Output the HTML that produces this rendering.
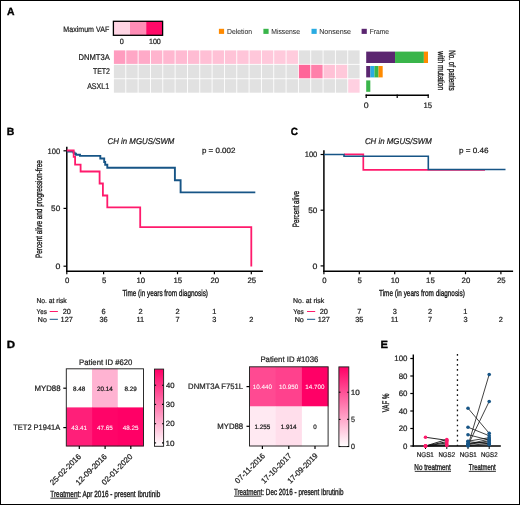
<!DOCTYPE html>
<html><head><meta charset="utf-8"><style>
html,body{margin:0;padding:0;background:#fff;}
#fig{position:relative;width:518px;height:503px;border:1px solid #000;overflow:hidden;background:#fff;}
svg{position:absolute;left:-1px;top:-1px;filter:blur(0.3px);}
text{font-family:"Liberation Sans", sans-serif;fill:#1c1c1c;stroke:#1c1c1c;stroke-width:0.22px;text-rendering:geometricPrecision;}
.c{stroke-width:0.36px;}
.w{fill:#fff;stroke:#fff;stroke-width:0.05px;}
.t{stroke-width:0.04px;fill:#2a2a2a;}
.k{fill:#000;stroke:#000;stroke-width:0.35px;}
</style></head><body>
<div id="fig"><svg width="520" height="505" viewBox="0 0 520 505">
<text x="7.00" y="15.20" font-size="10.4" textLength="7.52" lengthAdjust="spacingAndGlyphs" font-weight="bold" class="k">A</text>
<text x="63.37" y="31.60" font-size="8.0" textLength="45.86" lengthAdjust="spacingAndGlyphs">Maximum VAF</text>
<rect x="113.40" y="21.30" width="16.60" height="14.00" fill="#ffd5e4"/>
<rect x="130.00" y="21.30" width="16.20" height="14.00" fill="#ff8db6"/>
<rect x="146.20" y="21.30" width="16.40" height="14.00" fill="#ff0a68"/>
<rect x="113.40" y="21.30" width="49.20" height="14.00" fill="none" stroke="#000" stroke-width="1.3"/>
<text x="119.77" y="44.00" font-size="7.6" textLength="4.06" lengthAdjust="spacingAndGlyphs">0</text>
<text x="148.91" y="44.00" font-size="7.6" textLength="11.92" lengthAdjust="spacingAndGlyphs">100</text>
<rect x="218.90" y="28.80" width="5.20" height="5.10" fill="#ff8a00"/>
<text x="226.99" y="34.00" font-size="7.3" textLength="24.99" lengthAdjust="spacingAndGlyphs" class="t">Deletion</text>
<rect x="263.40" y="28.80" width="5.20" height="5.10" fill="#39b54a"/>
<text x="271.19" y="34.00" font-size="7.3" textLength="28.86" lengthAdjust="spacingAndGlyphs" class="t">Missense</text>
<rect x="311.50" y="28.80" width="5.20" height="5.10" fill="#29abe2"/>
<text x="319.17" y="34.00" font-size="7.3" textLength="31.89" lengthAdjust="spacingAndGlyphs" class="t">Nonsense</text>
<rect x="361.60" y="28.80" width="5.20" height="5.10" fill="#5b2670"/>
<text x="369.70" y="34.00" font-size="7.3" textLength="19.34" lengthAdjust="spacingAndGlyphs" class="t">Frame</text>
<text x="78.42" y="59.90" font-size="8.3" textLength="31.34" lengthAdjust="spacingAndGlyphs">DNMT3A</text>
<text x="92.90" y="74.20" font-size="8.3" textLength="17.00" lengthAdjust="spacingAndGlyphs">TET2</text>
<text x="87.14" y="88.60" font-size="8.3" textLength="21.95" lengthAdjust="spacingAndGlyphs">ASXL1</text>
<rect x="113.90" y="50.40" width="11.43" height="13.50" fill="#ff9cbf"/>
<rect x="126.23" y="50.40" width="11.43" height="13.50" fill="#ffa7c6"/>
<rect x="138.56" y="50.40" width="11.43" height="13.50" fill="#ffaac8"/>
<rect x="150.89" y="50.40" width="11.43" height="13.50" fill="#ffb4ce"/>
<rect x="163.22" y="50.40" width="11.43" height="13.50" fill="#ffb7d0"/>
<rect x="175.55" y="50.40" width="11.43" height="13.50" fill="#ffbad2"/>
<rect x="187.88" y="50.40" width="11.43" height="13.50" fill="#ffbcd3"/>
<rect x="200.21" y="50.40" width="11.43" height="13.50" fill="#ffbfd5"/>
<rect x="212.54" y="50.40" width="11.43" height="13.50" fill="#ffc1d6"/>
<rect x="224.87" y="50.40" width="11.43" height="13.50" fill="#ffc3d7"/>
<rect x="237.20" y="50.40" width="11.43" height="13.50" fill="#ffc5d9"/>
<rect x="249.53" y="50.40" width="11.43" height="13.50" fill="#ffc7da"/>
<rect x="261.86" y="50.40" width="11.43" height="13.50" fill="#ffc8db"/>
<rect x="274.19" y="50.40" width="11.43" height="13.50" fill="#ffcadc"/>
<rect x="286.52" y="50.40" width="11.43" height="13.50" fill="#ffccdd"/>
<rect x="298.85" y="50.40" width="11.43" height="13.50" fill="#e1e1e1"/>
<rect x="311.18" y="50.40" width="11.43" height="13.50" fill="#e1e1e1"/>
<rect x="323.51" y="50.40" width="11.43" height="13.50" fill="#e1e1e1"/>
<rect x="335.84" y="50.40" width="11.43" height="13.50" fill="#e1e1e1"/>
<rect x="348.17" y="50.40" width="11.43" height="13.50" fill="#e1e1e1"/>
<rect x="113.90" y="64.80" width="11.43" height="13.50" fill="#e1e1e1"/>
<rect x="126.23" y="64.80" width="11.43" height="13.50" fill="#e1e1e1"/>
<rect x="138.56" y="64.80" width="11.43" height="13.50" fill="#e1e1e1"/>
<rect x="150.89" y="64.80" width="11.43" height="13.50" fill="#e1e1e1"/>
<rect x="163.22" y="64.80" width="11.43" height="13.50" fill="#e1e1e1"/>
<rect x="175.55" y="64.80" width="11.43" height="13.50" fill="#e1e1e1"/>
<rect x="187.88" y="64.80" width="11.43" height="13.50" fill="#e1e1e1"/>
<rect x="200.21" y="64.80" width="11.43" height="13.50" fill="#e1e1e1"/>
<rect x="212.54" y="64.80" width="11.43" height="13.50" fill="#e1e1e1"/>
<rect x="224.87" y="64.80" width="11.43" height="13.50" fill="#e1e1e1"/>
<rect x="237.20" y="64.80" width="11.43" height="13.50" fill="#e1e1e1"/>
<rect x="249.53" y="64.80" width="11.43" height="13.50" fill="#e1e1e1"/>
<rect x="261.86" y="64.80" width="11.43" height="13.50" fill="#e1e1e1"/>
<rect x="274.19" y="64.80" width="11.43" height="13.50" fill="#e1e1e1"/>
<rect x="286.52" y="64.80" width="11.43" height="13.50" fill="#e1e1e1"/>
<rect x="298.85" y="64.80" width="11.43" height="13.50" fill="#ff6699"/>
<rect x="311.18" y="64.80" width="11.43" height="13.50" fill="#ff80aa"/>
<rect x="323.51" y="64.80" width="11.43" height="13.50" fill="#ffc1d6"/>
<rect x="335.84" y="64.80" width="11.43" height="13.50" fill="#ffc8da"/>
<rect x="348.17" y="64.80" width="11.43" height="13.50" fill="#e1e1e1"/>
<rect x="113.90" y="79.20" width="11.43" height="13.50" fill="#e1e1e1"/>
<rect x="126.23" y="79.20" width="11.43" height="13.50" fill="#e1e1e1"/>
<rect x="138.56" y="79.20" width="11.43" height="13.50" fill="#e1e1e1"/>
<rect x="150.89" y="79.20" width="11.43" height="13.50" fill="#e1e1e1"/>
<rect x="163.22" y="79.20" width="11.43" height="13.50" fill="#e1e1e1"/>
<rect x="175.55" y="79.20" width="11.43" height="13.50" fill="#e1e1e1"/>
<rect x="187.88" y="79.20" width="11.43" height="13.50" fill="#e1e1e1"/>
<rect x="200.21" y="79.20" width="11.43" height="13.50" fill="#e1e1e1"/>
<rect x="212.54" y="79.20" width="11.43" height="13.50" fill="#e1e1e1"/>
<rect x="224.87" y="79.20" width="11.43" height="13.50" fill="#e1e1e1"/>
<rect x="237.20" y="79.20" width="11.43" height="13.50" fill="#e1e1e1"/>
<rect x="249.53" y="79.20" width="11.43" height="13.50" fill="#e1e1e1"/>
<rect x="261.86" y="79.20" width="11.43" height="13.50" fill="#e1e1e1"/>
<rect x="274.19" y="79.20" width="11.43" height="13.50" fill="#e1e1e1"/>
<rect x="286.52" y="79.20" width="11.43" height="13.50" fill="#e1e1e1"/>
<rect x="298.85" y="79.20" width="11.43" height="13.50" fill="#e1e1e1"/>
<rect x="311.18" y="79.20" width="11.43" height="13.50" fill="#e1e1e1"/>
<rect x="323.51" y="79.20" width="11.43" height="13.50" fill="#e1e1e1"/>
<rect x="335.84" y="79.20" width="11.43" height="13.50" fill="#e1e1e1"/>
<rect x="348.17" y="79.20" width="11.43" height="13.50" fill="#ffd0e1"/>
<rect x="366.20" y="51.60" width="28.84" height="11.40" fill="#5b2670"/>
<rect x="395.04" y="51.60" width="28.84" height="11.40" fill="#39b54a"/>
<rect x="423.88" y="51.60" width="4.12" height="11.40" fill="#ff8a00"/>
<rect x="366.20" y="66.00" width="4.12" height="11.40" fill="#5b2670"/>
<rect x="370.32" y="66.00" width="4.12" height="11.40" fill="#29abe2"/>
<rect x="374.44" y="66.00" width="4.12" height="11.40" fill="#39b54a"/>
<rect x="378.56" y="66.00" width="4.12" height="11.40" fill="#ff8a00"/>
<rect x="366.20" y="80.40" width="4.12" height="11.40" fill="#39b54a"/>
<line x1="365.60" y1="95.20" x2="428.80" y2="95.20" stroke="#000" stroke-width="1.4"/>
<line x1="366.20" y1="94.50" x2="366.20" y2="98.00" stroke="#000" stroke-width="1.2"/>
<line x1="397.20" y1="94.50" x2="397.20" y2="98.00" stroke="#000" stroke-width="1.2"/>
<line x1="428.20" y1="94.50" x2="428.20" y2="98.00" stroke="#000" stroke-width="1.2"/>
<text x="363.71" y="107.60" font-size="8.0" textLength="4.88" lengthAdjust="spacingAndGlyphs">0</text>
<text x="423.46" y="107.60" font-size="8.0" textLength="8.61" lengthAdjust="spacingAndGlyphs">15</text>
<text transform="translate(449.00 70.55) rotate(90)" x="-20.42" y="0" font-size="9.2" textLength="40.54" lengthAdjust="spacingAndGlyphs" class="c">No. of patients</text>
<text transform="translate(438.00 70.55) rotate(90)" x="-19.19" y="0" font-size="9.2" textLength="38.81" lengthAdjust="spacingAndGlyphs" class="c">with mutation</text>
<line x1="66.80" y1="146.80" x2="66.80" y2="271.95" stroke="#000" stroke-width="1.5"/>
<line x1="66.05" y1="271.20" x2="262.90" y2="271.20" stroke="#000" stroke-width="1.5"/>
<line x1="63.50" y1="150.80" x2="66.80" y2="150.80" stroke="#000" stroke-width="1.2"/>
<text x="47.57" y="153.55" font-size="7.9" textLength="12.67" lengthAdjust="spacingAndGlyphs">100</text>
<line x1="63.50" y1="208.40" x2="66.80" y2="208.40" stroke="#000" stroke-width="1.2"/>
<text x="51.12" y="211.15" font-size="7.9" textLength="9.14" lengthAdjust="spacingAndGlyphs">50</text>
<line x1="63.50" y1="266.20" x2="66.80" y2="266.20" stroke="#000" stroke-width="1.2"/>
<text x="55.41" y="268.95" font-size="7.9" textLength="4.88" lengthAdjust="spacingAndGlyphs">0</text>
<line x1="66.80" y1="271.20" x2="66.80" y2="274.20" stroke="#000" stroke-width="1.2"/>
<text x="65.08" y="282.90" font-size="7.8" textLength="4.34" lengthAdjust="spacingAndGlyphs">0</text>
<line x1="103.60" y1="271.20" x2="103.60" y2="274.20" stroke="#000" stroke-width="1.2"/>
<text x="101.89" y="282.90" font-size="7.8" textLength="4.34" lengthAdjust="spacingAndGlyphs">5</text>
<line x1="140.50" y1="271.20" x2="140.50" y2="274.20" stroke="#000" stroke-width="1.2"/>
<text x="136.46" y="282.90" font-size="7.8" textLength="8.68" lengthAdjust="spacingAndGlyphs">10</text>
<line x1="177.50" y1="271.20" x2="177.50" y2="274.20" stroke="#000" stroke-width="1.2"/>
<text x="173.48" y="282.90" font-size="7.8" textLength="8.68" lengthAdjust="spacingAndGlyphs">15</text>
<line x1="214.40" y1="271.20" x2="214.40" y2="274.20" stroke="#000" stroke-width="1.2"/>
<text x="210.47" y="282.90" font-size="7.8" textLength="8.68" lengthAdjust="spacingAndGlyphs">20</text>
<line x1="251.30" y1="271.20" x2="251.30" y2="274.20" stroke="#000" stroke-width="1.2"/>
<text x="247.38" y="282.90" font-size="7.8" textLength="8.68" lengthAdjust="spacingAndGlyphs">25</text>
<text x="107.52" y="144.30" font-size="8.4" textLength="66.83" lengthAdjust="spacingAndGlyphs" font-style="italic">CH in MGUS/SWM</text>
<text x="201.94" y="153.20" font-size="7.6" textLength="33.51" lengthAdjust="spacingAndGlyphs">p = 0.002</text>
<text x="122.41" y="295.50" font-size="8.7" textLength="85.54" lengthAdjust="spacingAndGlyphs" class="c">Time (in years from diagnosis)</text>
<text transform="translate(41.80 209.00) rotate(-90)" x="-49.08" y="0" font-size="9.2" textLength="97.91" lengthAdjust="spacingAndGlyphs" class="c">Percent alive and progression-free</text>
<line x1="323.90" y1="150.20" x2="323.90" y2="271.95" stroke="#000" stroke-width="1.5"/>
<line x1="323.15" y1="271.20" x2="513.10" y2="271.20" stroke="#000" stroke-width="1.5"/>
<line x1="320.60" y1="154.50" x2="323.90" y2="154.50" stroke="#000" stroke-width="1.2"/>
<text x="304.67" y="157.25" font-size="7.9" textLength="12.67" lengthAdjust="spacingAndGlyphs">100</text>
<line x1="320.60" y1="210.20" x2="323.90" y2="210.20" stroke="#000" stroke-width="1.2"/>
<text x="308.22" y="212.95" font-size="7.9" textLength="9.14" lengthAdjust="spacingAndGlyphs">50</text>
<line x1="320.60" y1="265.90" x2="323.90" y2="265.90" stroke="#000" stroke-width="1.2"/>
<text x="312.51" y="268.65" font-size="7.9" textLength="4.88" lengthAdjust="spacingAndGlyphs">0</text>
<line x1="323.90" y1="271.20" x2="323.90" y2="274.20" stroke="#000" stroke-width="1.2"/>
<text x="322.18" y="282.90" font-size="7.8" textLength="4.34" lengthAdjust="spacingAndGlyphs">0</text>
<line x1="359.30" y1="271.20" x2="359.30" y2="274.20" stroke="#000" stroke-width="1.2"/>
<text x="357.59" y="282.90" font-size="7.8" textLength="4.34" lengthAdjust="spacingAndGlyphs">5</text>
<line x1="394.70" y1="271.20" x2="394.70" y2="274.20" stroke="#000" stroke-width="1.2"/>
<text x="390.66" y="282.90" font-size="7.8" textLength="8.68" lengthAdjust="spacingAndGlyphs">10</text>
<line x1="430.10" y1="271.20" x2="430.10" y2="274.20" stroke="#000" stroke-width="1.2"/>
<text x="426.08" y="282.90" font-size="7.8" textLength="8.68" lengthAdjust="spacingAndGlyphs">15</text>
<line x1="465.50" y1="271.20" x2="465.50" y2="274.20" stroke="#000" stroke-width="1.2"/>
<text x="461.57" y="282.90" font-size="7.8" textLength="8.68" lengthAdjust="spacingAndGlyphs">20</text>
<line x1="500.90" y1="271.20" x2="500.90" y2="274.20" stroke="#000" stroke-width="1.2"/>
<text x="496.98" y="282.90" font-size="7.8" textLength="8.68" lengthAdjust="spacingAndGlyphs">25</text>
<text x="364.92" y="144.30" font-size="8.4" textLength="66.83" lengthAdjust="spacingAndGlyphs" font-style="italic">CH in MGUS/SWM</text>
<text x="458.93" y="153.20" font-size="7.6" textLength="29.67" lengthAdjust="spacingAndGlyphs">p = 0.46</text>
<text x="379.01" y="295.50" font-size="8.7" textLength="85.84" lengthAdjust="spacingAndGlyphs" class="c">Time (in years from diagnosis)</text>
<text transform="translate(299.20 209.00) rotate(-90)" x="-18.26" y="0" font-size="9.2" textLength="36.29" lengthAdjust="spacingAndGlyphs" class="c">Percent alive</text>
<path d="M66.80 151.60 L73.40 151.60 L73.40 152.60 L74.60 152.60 L74.60 153.80 L76.00 153.80 L76.00 154.80 L80.00 154.80 L80.00 155.90 L100.30 155.90 L100.30 158.50 L104.20 158.50 L104.20 162.00 L105.20 162.00 L105.20 164.80 L107.30 164.80 L107.30 167.80 L174.90 167.80 L174.90 180.20 L180.60 180.20 L180.60 192.40 L255.30 192.40" fill="none" stroke="#175586" stroke-width="1.9"/>
<path d="M66.80 150.50 L73.70 150.50 L73.70 156.80 L75.10 156.80 L75.10 164.70 L80.60 164.70 L80.60 171.50 L99.60 171.50 L99.60 183.50 L102.90 183.50 L102.90 195.50 L107.30 195.50 L107.30 207.30 L140.20 207.30 L140.20 227.20 L251.30 227.20 L251.30 266.40" fill="none" stroke="#ff1a6c" stroke-width="1.8"/>
<path d="M344.00 154.40 L363.30 154.40 L363.30 169.90 L485.00 169.90" fill="none" stroke="#ff1a6c" stroke-width="1.7"/>
<path d="M323.90 154.50 L344.00 154.50 L344.00 156.20 L428.30 156.20 L428.30 169.50 L505.50 169.50" fill="none" stroke="#175586" stroke-width="1.6"/>
<text x="36.40" y="303.20" font-size="7.0" textLength="30.34" lengthAdjust="spacingAndGlyphs">No. at risk</text>
<text x="36.61" y="313.80" font-size="7.0" textLength="10.16" lengthAdjust="spacingAndGlyphs">Yes</text>
<text x="37.87" y="321.50" font-size="7.0" textLength="8.96" lengthAdjust="spacingAndGlyphs">No</text>
<line x1="49.70" y1="311.50" x2="57.90" y2="311.50" stroke="#ff1a6c" stroke-width="1.0"/>
<line x1="49.70" y1="319.30" x2="57.90" y2="319.30" stroke="#175586" stroke-width="1.0"/>
<text x="62.64" y="313.80" font-size="7.4" textLength="8.23" lengthAdjust="spacingAndGlyphs">20</text>
<text x="101.52" y="313.80" font-size="7.4" textLength="4.12" lengthAdjust="spacingAndGlyphs">6</text>
<text x="138.44" y="313.80" font-size="7.4" textLength="4.12" lengthAdjust="spacingAndGlyphs">2</text>
<text x="175.44" y="313.80" font-size="7.4" textLength="4.12" lengthAdjust="spacingAndGlyphs">2</text>
<text x="212.24" y="313.80" font-size="7.4" textLength="4.12" lengthAdjust="spacingAndGlyphs">1</text>
<text x="60.53" y="321.50" font-size="7.4" textLength="12.35" lengthAdjust="spacingAndGlyphs">127</text>
<text x="99.50" y="321.50" font-size="7.4" textLength="8.23" lengthAdjust="spacingAndGlyphs">36</text>
<text x="136.56" y="321.50" font-size="7.4" textLength="7.68" lengthAdjust="spacingAndGlyphs">11</text>
<text x="175.44" y="321.50" font-size="7.4" textLength="4.12" lengthAdjust="spacingAndGlyphs">7</text>
<text x="212.36" y="321.50" font-size="7.4" textLength="4.12" lengthAdjust="spacingAndGlyphs">3</text>
<text x="249.24" y="321.50" font-size="7.4" textLength="4.12" lengthAdjust="spacingAndGlyphs">2</text>
<text x="293.08" y="303.20" font-size="7.0" textLength="31.15" lengthAdjust="spacingAndGlyphs">No. at risk</text>
<text x="293.31" y="313.80" font-size="7.0" textLength="10.47" lengthAdjust="spacingAndGlyphs">Yes</text>
<text x="294.66" y="321.50" font-size="7.0" textLength="9.19" lengthAdjust="spacingAndGlyphs">No</text>
<line x1="307.00" y1="311.50" x2="315.20" y2="311.50" stroke="#ff1a6c" stroke-width="1.0"/>
<line x1="307.00" y1="319.30" x2="315.20" y2="319.30" stroke="#175586" stroke-width="1.0"/>
<text x="319.74" y="313.80" font-size="7.4" textLength="8.23" lengthAdjust="spacingAndGlyphs">20</text>
<text x="357.24" y="313.80" font-size="7.4" textLength="4.12" lengthAdjust="spacingAndGlyphs">7</text>
<text x="392.66" y="313.80" font-size="7.4" textLength="4.12" lengthAdjust="spacingAndGlyphs">3</text>
<text x="428.04" y="313.80" font-size="7.4" textLength="4.12" lengthAdjust="spacingAndGlyphs">2</text>
<text x="463.34" y="313.80" font-size="7.4" textLength="4.12" lengthAdjust="spacingAndGlyphs">1</text>
<text x="317.63" y="321.50" font-size="7.4" textLength="12.35" lengthAdjust="spacingAndGlyphs">127</text>
<text x="355.20" y="321.50" font-size="7.4" textLength="8.23" lengthAdjust="spacingAndGlyphs">35</text>
<text x="390.76" y="321.50" font-size="7.4" textLength="7.68" lengthAdjust="spacingAndGlyphs">11</text>
<text x="428.04" y="321.50" font-size="7.4" textLength="4.12" lengthAdjust="spacingAndGlyphs">7</text>
<text x="463.46" y="321.50" font-size="7.4" textLength="4.12" lengthAdjust="spacingAndGlyphs">3</text>
<text x="498.84" y="321.50" font-size="7.4" textLength="4.12" lengthAdjust="spacingAndGlyphs">2</text>
<text x="6.86" y="134.50" font-size="10.4" textLength="7.56" lengthAdjust="spacingAndGlyphs" font-weight="bold" class="k">B</text>
<text x="290.84" y="134.50" font-size="10.4" textLength="7.18" lengthAdjust="spacingAndGlyphs" font-weight="bold" class="k">C</text>
<text x="6.69" y="348.20" font-size="10.4" textLength="8.34" lengthAdjust="spacingAndGlyphs" font-weight="bold" class="k">D</text>
<rect x="66.30" y="368.80" width="26.03" height="38.90" fill="#fffefe"/>
<rect x="92.03" y="368.80" width="26.03" height="38.90" fill="#ffb3d2"/>
<rect x="117.77" y="368.80" width="26.03" height="38.90" fill="#ffffff"/>
<rect x="66.30" y="407.40" width="26.03" height="38.90" fill="#ff1f79"/>
<rect x="92.03" y="407.40" width="26.03" height="38.90" fill="#ff0468"/>
<rect x="117.77" y="407.40" width="26.03" height="38.90" fill="#ff0066"/>
<text x="73.04" y="390.50" font-size="6.3" textLength="12.26" lengthAdjust="spacingAndGlyphs">8.48</text>
<text x="96.95" y="390.50" font-size="6.3" textLength="15.77" lengthAdjust="spacingAndGlyphs">20.14</text>
<text x="124.52" y="390.50" font-size="6.3" textLength="12.26" lengthAdjust="spacingAndGlyphs">8.29</text>
<text x="71.37" y="429.90" font-size="6.3" textLength="15.77" lengthAdjust="spacingAndGlyphs" class="w">43.41</text>
<text x="97.08" y="429.90" font-size="6.3" textLength="15.77" lengthAdjust="spacingAndGlyphs" class="w">47.65</text>
<text x="122.81" y="429.90" font-size="6.3" textLength="15.77" lengthAdjust="spacingAndGlyphs" class="w">48.25</text>
<rect x="66.30" y="368.80" width="77.20" height="77.20" fill="none" stroke="#222" stroke-width="0.95"/>
<text x="79.02" y="364.50" font-size="8.0" textLength="53.33" lengthAdjust="spacingAndGlyphs">Patient ID #620</text>
<line x1="63.30" y1="388.20" x2="66.30" y2="388.20" stroke="#000" stroke-width="1.2"/>
<text x="34.41" y="391.00" font-size="8.0" textLength="26.08" lengthAdjust="spacingAndGlyphs">MYD88</text>
<line x1="63.30" y1="427.60" x2="66.30" y2="427.60" stroke="#000" stroke-width="1.2"/>
<text x="13.29" y="430.40" font-size="8.0" textLength="46.88" lengthAdjust="spacingAndGlyphs">TET2 P1941A</text>
<line x1="79.30" y1="446.00" x2="79.30" y2="449.00" stroke="#000" stroke-width="1.2"/>
<text transform="translate(81.30 457.30) rotate(-45)" x="-39.89" y="0" font-size="7.8" textLength="40.23" lengthAdjust="spacingAndGlyphs">25-02-2016</text>
<line x1="105.10" y1="446.00" x2="105.10" y2="449.00" stroke="#000" stroke-width="1.2"/>
<text transform="translate(107.10 457.30) rotate(-45)" x="-40.10" y="0" font-size="7.8" textLength="40.44" lengthAdjust="spacingAndGlyphs">12-09-2016</text>
<line x1="130.80" y1="446.00" x2="130.80" y2="449.00" stroke="#000" stroke-width="1.2"/>
<text transform="translate(132.80 457.30) rotate(-45)" x="-39.81" y="0" font-size="7.8" textLength="40.11" lengthAdjust="spacingAndGlyphs">02-01-2020</text>
<defs><linearGradient id="g66" x1="0" y1="1" x2="0" y2="0"><stop offset="0" stop-color="#fff"/><stop offset="1" stop-color="#ff0066"/></linearGradient></defs>
<rect x="154.50" y="369.10" width="9.10" height="77.20" fill="url(#g66)" stroke="#222" stroke-width="0.95"/>
<line x1="154.50" y1="385.20" x2="156.10" y2="385.20" stroke="#000" stroke-width="1.1"/>
<line x1="162.00" y1="385.20" x2="163.60" y2="385.20" stroke="#000" stroke-width="1.1"/>
<text x="165.98" y="387.90" font-size="7.6" textLength="8.56" lengthAdjust="spacingAndGlyphs">40</text>
<line x1="154.50" y1="404.40" x2="156.10" y2="404.40" stroke="#000" stroke-width="1.1"/>
<line x1="162.00" y1="404.40" x2="163.60" y2="404.40" stroke="#000" stroke-width="1.1"/>
<text x="165.85" y="407.10" font-size="7.6" textLength="8.70" lengthAdjust="spacingAndGlyphs">30</text>
<line x1="154.50" y1="423.70" x2="156.10" y2="423.70" stroke="#000" stroke-width="1.1"/>
<line x1="162.00" y1="423.70" x2="163.60" y2="423.70" stroke="#000" stroke-width="1.1"/>
<text x="165.75" y="426.40" font-size="7.6" textLength="8.80" lengthAdjust="spacingAndGlyphs">20</text>
<line x1="154.50" y1="442.90" x2="156.10" y2="442.90" stroke="#000" stroke-width="1.1"/>
<line x1="162.00" y1="442.90" x2="163.60" y2="442.90" stroke="#000" stroke-width="1.1"/>
<text x="165.53" y="445.60" font-size="7.6" textLength="9.03" lengthAdjust="spacingAndGlyphs">10</text>
<text x="50.31" y="496.70" font-size="8.9" textLength="109.90" lengthAdjust="spacingAndGlyphs" class="c">Treatment: Apr 2016 - present Ibrutinib</text>
<line x1="50.40" y1="498.20" x2="77.80" y2="498.20" stroke="#222" stroke-width="0.9"/>
<rect x="249.50" y="366.80" width="26.50" height="39.90" fill="#ff4a92"/>
<rect x="275.70" y="366.80" width="26.50" height="39.90" fill="#ff418d"/>
<rect x="301.90" y="366.80" width="26.50" height="39.90" fill="#ff0066"/>
<rect x="249.50" y="406.40" width="26.50" height="39.90" fill="#ffe9f2"/>
<rect x="275.70" y="406.40" width="26.50" height="39.90" fill="#ffdeeb"/>
<rect x="301.90" y="406.40" width="26.50" height="39.90" fill="#ffffff"/>
<text x="252.85" y="388.90" font-size="6.3" textLength="19.27" lengthAdjust="spacingAndGlyphs" class="w">10.440</text>
<text x="279.05" y="388.90" font-size="6.3" textLength="19.27" lengthAdjust="spacingAndGlyphs" class="w">10.950</text>
<text x="305.25" y="388.90" font-size="6.3" textLength="19.27" lengthAdjust="spacingAndGlyphs" class="w">14.700</text>
<text x="254.61" y="428.60" font-size="6.3" textLength="15.77" lengthAdjust="spacingAndGlyphs">1.255</text>
<text x="280.77" y="428.60" font-size="6.3" textLength="15.77" lengthAdjust="spacingAndGlyphs">1.914</text>
<text x="313.25" y="428.60" font-size="6.3" textLength="3.50" lengthAdjust="spacingAndGlyphs">0</text>
<rect x="249.50" y="366.80" width="78.60" height="79.20" fill="none" stroke="#222" stroke-width="0.95"/>
<text x="260.41" y="362.40" font-size="8.0" textLength="57.87" lengthAdjust="spacingAndGlyphs">Patient ID #1036</text>
<line x1="246.50" y1="386.60" x2="249.50" y2="386.60" stroke="#000" stroke-width="1.2"/>
<text x="188.12" y="389.40" font-size="8.0" textLength="54.99" lengthAdjust="spacingAndGlyphs">DNMT3A F751L</text>
<line x1="246.50" y1="426.30" x2="249.50" y2="426.30" stroke="#000" stroke-width="1.2"/>
<text x="217.31" y="429.10" font-size="8.0" textLength="25.87" lengthAdjust="spacingAndGlyphs">MYD88</text>
<line x1="262.40" y1="446.00" x2="262.40" y2="449.00" stroke="#000" stroke-width="1.2"/>
<text transform="translate(265.40 456.60) rotate(-45)" x="-38.60" y="0" font-size="7.8" textLength="38.93" lengthAdjust="spacingAndGlyphs">07-11-2016</text>
<line x1="288.80" y1="446.00" x2="288.80" y2="449.00" stroke="#000" stroke-width="1.2"/>
<text transform="translate(291.80 456.60) rotate(-45)" x="-38.88" y="0" font-size="7.8" textLength="39.27" lengthAdjust="spacingAndGlyphs">17-10-2017</text>
<line x1="315.00" y1="446.00" x2="315.00" y2="449.00" stroke="#000" stroke-width="1.2"/>
<text transform="translate(318.00 456.60) rotate(-45)" x="-38.88" y="0" font-size="7.8" textLength="39.25" lengthAdjust="spacingAndGlyphs">17-09-2019</text>
<defs><linearGradient id="g249" x1="0" y1="1" x2="0" y2="0"><stop offset="0" stop-color="#fff"/><stop offset="1" stop-color="#ff0066"/></linearGradient></defs>
<rect x="338.90" y="366.90" width="9.90" height="79.70" fill="url(#g249)" stroke="#222" stroke-width="0.95"/>
<line x1="338.90" y1="392.20" x2="340.50" y2="392.20" stroke="#000" stroke-width="1.1"/>
<line x1="347.20" y1="392.20" x2="348.80" y2="392.20" stroke="#000" stroke-width="1.1"/>
<text x="350.73" y="394.90" font-size="7.6" textLength="9.03" lengthAdjust="spacingAndGlyphs">10</text>
<line x1="338.90" y1="419.40" x2="340.50" y2="419.40" stroke="#000" stroke-width="1.1"/>
<line x1="347.20" y1="419.40" x2="348.80" y2="419.40" stroke="#000" stroke-width="1.1"/>
<text x="351.06" y="422.10" font-size="7.6" textLength="3.98" lengthAdjust="spacingAndGlyphs">5</text>
<line x1="338.90" y1="446.50" x2="340.50" y2="446.50" stroke="#000" stroke-width="1.1"/>
<line x1="347.20" y1="446.50" x2="348.80" y2="446.50" stroke="#000" stroke-width="1.1"/>
<text x="351.07" y="449.20" font-size="7.6" textLength="3.95" lengthAdjust="spacingAndGlyphs">0</text>
<text x="233.91" y="494.70" font-size="8.9" textLength="109.60" lengthAdjust="spacingAndGlyphs" class="c">Treatment: Dec 2016 - present Ibrutinib</text>
<line x1="234.00" y1="496.20" x2="261.40" y2="496.20" stroke="#222" stroke-width="0.9"/>
<text x="380.51" y="348.00" font-size="10.4" textLength="7.48" lengthAdjust="spacingAndGlyphs" font-weight="bold" class="k">E</text>
<line x1="413.30" y1="354.50" x2="413.30" y2="446.70" stroke="#000" stroke-width="1.4"/>
<line x1="412.60" y1="446.00" x2="500.80" y2="446.00" stroke="#000" stroke-width="1.4"/>
<line x1="410.30" y1="446.00" x2="413.30" y2="446.00" stroke="#000" stroke-width="1.2"/>
<text x="403.06" y="448.55" font-size="7.9" textLength="4.39" lengthAdjust="spacingAndGlyphs">0</text>
<line x1="410.30" y1="428.50" x2="413.30" y2="428.50" stroke="#000" stroke-width="1.2"/>
<text x="398.67" y="431.05" font-size="7.9" textLength="8.79" lengthAdjust="spacingAndGlyphs">20</text>
<line x1="410.30" y1="411.00" x2="413.30" y2="411.00" stroke="#000" stroke-width="1.2"/>
<text x="398.67" y="413.55" font-size="7.9" textLength="8.79" lengthAdjust="spacingAndGlyphs">40</text>
<line x1="410.30" y1="393.50" x2="413.30" y2="393.50" stroke="#000" stroke-width="1.2"/>
<text x="398.67" y="396.05" font-size="7.9" textLength="8.79" lengthAdjust="spacingAndGlyphs">60</text>
<line x1="410.30" y1="376.00" x2="413.30" y2="376.00" stroke="#000" stroke-width="1.2"/>
<text x="398.67" y="378.55" font-size="7.9" textLength="8.79" lengthAdjust="spacingAndGlyphs">80</text>
<line x1="410.30" y1="358.50" x2="413.30" y2="358.50" stroke="#000" stroke-width="1.2"/>
<text x="394.27" y="361.05" font-size="7.9" textLength="13.18" lengthAdjust="spacingAndGlyphs">100</text>
<line x1="457.45" y1="353.95" x2="457.45" y2="446.00" stroke="#111" stroke-width="1.3" stroke-dasharray="1.7 3.35"/>
<line x1="425.50" y1="446.00" x2="425.50" y2="449.00" stroke="#000" stroke-width="1.0"/>
<line x1="446.80" y1="446.00" x2="446.80" y2="449.00" stroke="#000" stroke-width="1.0"/>
<line x1="468.00" y1="446.00" x2="468.00" y2="449.00" stroke="#000" stroke-width="1.0"/>
<line x1="489.20" y1="446.00" x2="489.20" y2="449.00" stroke="#000" stroke-width="1.0"/>
<text x="416.73" y="457.40" font-size="6.8" textLength="17.12" lengthAdjust="spacingAndGlyphs">NGS1</text>
<text x="438.45" y="457.40" font-size="6.8" textLength="16.61" lengthAdjust="spacingAndGlyphs">NGS2</text>
<text x="459.73" y="457.40" font-size="6.8" textLength="17.12" lengthAdjust="spacingAndGlyphs">NGS1</text>
<text x="480.95" y="457.40" font-size="6.8" textLength="16.61" lengthAdjust="spacingAndGlyphs">NGS2</text>
<text x="414.33" y="470.40" font-size="8.6" textLength="36.46" lengthAdjust="spacingAndGlyphs" class="c">No treatment</text>
<line x1="414.80" y1="471.40" x2="451.00" y2="471.40" stroke="#222" stroke-width="0.9"/>
<text x="468.72" y="470.40" font-size="8.6" textLength="26.97" lengthAdjust="spacingAndGlyphs" class="c">Treatment</text>
<line x1="468.80" y1="471.40" x2="495.90" y2="471.40" stroke="#222" stroke-width="0.9"/>
<text transform="translate(388.60 403.10) rotate(-90)" x="-9.27" y="0" font-size="9.6" textLength="18.74" lengthAdjust="spacingAndGlyphs" class="c">VAF %</text>
<line x1="425.50" y1="437.25" x2="446.80" y2="440.31" stroke="#111" stroke-width="0.9"/>
<line x1="425.50" y1="446.00" x2="446.80" y2="439.44" stroke="#111" stroke-width="0.9"/>
<line x1="425.50" y1="446.00" x2="446.80" y2="442.94" stroke="#111" stroke-width="0.9"/>
<line x1="425.50" y1="446.00" x2="446.80" y2="444.69" stroke="#111" stroke-width="0.9"/>
<line x1="425.50" y1="446.00" x2="446.80" y2="445.56" stroke="#111" stroke-width="0.9"/>
<line x1="425.50" y1="446.00" x2="446.80" y2="441.62" stroke="#111" stroke-width="0.9"/>
<circle cx="425.5" cy="437.25" r="1.8" fill="#ff1a6c"/>
<circle cx="446.8" cy="440.31" r="1.8" fill="#ff1a6c"/>
<circle cx="425.5" cy="446.00" r="1.8" fill="#ff1a6c"/>
<circle cx="446.8" cy="439.44" r="1.8" fill="#ff1a6c"/>
<circle cx="425.5" cy="446.00" r="1.8" fill="#ff1a6c"/>
<circle cx="446.8" cy="442.94" r="1.8" fill="#ff1a6c"/>
<circle cx="425.5" cy="446.00" r="1.8" fill="#ff1a6c"/>
<circle cx="446.8" cy="444.69" r="1.8" fill="#ff1a6c"/>
<circle cx="425.5" cy="446.00" r="1.8" fill="#ff1a6c"/>
<circle cx="446.8" cy="445.56" r="1.8" fill="#ff1a6c"/>
<circle cx="425.5" cy="446.00" r="1.8" fill="#ff1a6c"/>
<circle cx="446.8" cy="441.62" r="1.8" fill="#ff1a6c"/>
<line x1="468.00" y1="408.20" x2="489.20" y2="433.31" stroke="#111" stroke-width="0.8"/>
<line x1="468.00" y1="445.56" x2="489.20" y2="374.43" stroke="#111" stroke-width="0.8"/>
<line x1="468.00" y1="445.12" x2="489.20" y2="401.46" stroke="#111" stroke-width="0.8"/>
<line x1="468.00" y1="427.19" x2="489.20" y2="435.76" stroke="#111" stroke-width="0.8"/>
<line x1="468.00" y1="434.71" x2="489.20" y2="440.05" stroke="#111" stroke-width="0.8"/>
<line x1="468.00" y1="441.19" x2="489.20" y2="437.69" stroke="#111" stroke-width="0.8"/>
<line x1="468.00" y1="443.38" x2="489.20" y2="442.06" stroke="#111" stroke-width="0.8"/>
<line x1="468.00" y1="444.69" x2="489.20" y2="440.75" stroke="#111" stroke-width="0.8"/>
<line x1="468.00" y1="445.56" x2="489.20" y2="443.38" stroke="#111" stroke-width="0.8"/>
<line x1="468.00" y1="446.00" x2="489.20" y2="444.69" stroke="#111" stroke-width="0.8"/>
<line x1="468.00" y1="441.62" x2="489.20" y2="443.81" stroke="#111" stroke-width="0.8"/>
<line x1="468.00" y1="444.25" x2="489.20" y2="439.00" stroke="#111" stroke-width="0.8"/>
<circle cx="468.0" cy="408.20" r="1.8" fill="#175586"/>
<circle cx="489.2" cy="433.31" r="1.8" fill="#175586"/>
<circle cx="468.0" cy="445.56" r="1.8" fill="#175586"/>
<circle cx="489.2" cy="374.43" r="1.8" fill="#175586"/>
<circle cx="468.0" cy="445.12" r="1.8" fill="#175586"/>
<circle cx="489.2" cy="401.46" r="1.8" fill="#175586"/>
<circle cx="468.0" cy="427.19" r="1.8" fill="#175586"/>
<circle cx="489.2" cy="435.76" r="1.8" fill="#175586"/>
<circle cx="468.0" cy="434.71" r="1.8" fill="#175586"/>
<circle cx="489.2" cy="440.05" r="1.8" fill="#175586"/>
<circle cx="468.0" cy="441.19" r="1.8" fill="#175586"/>
<circle cx="489.2" cy="437.69" r="1.8" fill="#175586"/>
<circle cx="468.0" cy="443.38" r="1.8" fill="#175586"/>
<circle cx="489.2" cy="442.06" r="1.8" fill="#175586"/>
<circle cx="468.0" cy="444.69" r="1.8" fill="#175586"/>
<circle cx="489.2" cy="440.75" r="1.8" fill="#175586"/>
<circle cx="468.0" cy="445.56" r="1.8" fill="#175586"/>
<circle cx="489.2" cy="443.38" r="1.8" fill="#175586"/>
<circle cx="468.0" cy="446.00" r="1.8" fill="#175586"/>
<circle cx="489.2" cy="444.69" r="1.8" fill="#175586"/>
<circle cx="468.0" cy="441.62" r="1.8" fill="#175586"/>
<circle cx="489.2" cy="443.81" r="1.8" fill="#175586"/>
<circle cx="468.0" cy="444.25" r="1.8" fill="#175586"/>
<circle cx="489.2" cy="439.00" r="1.8" fill="#175586"/>
</svg></div>
</body></html>
